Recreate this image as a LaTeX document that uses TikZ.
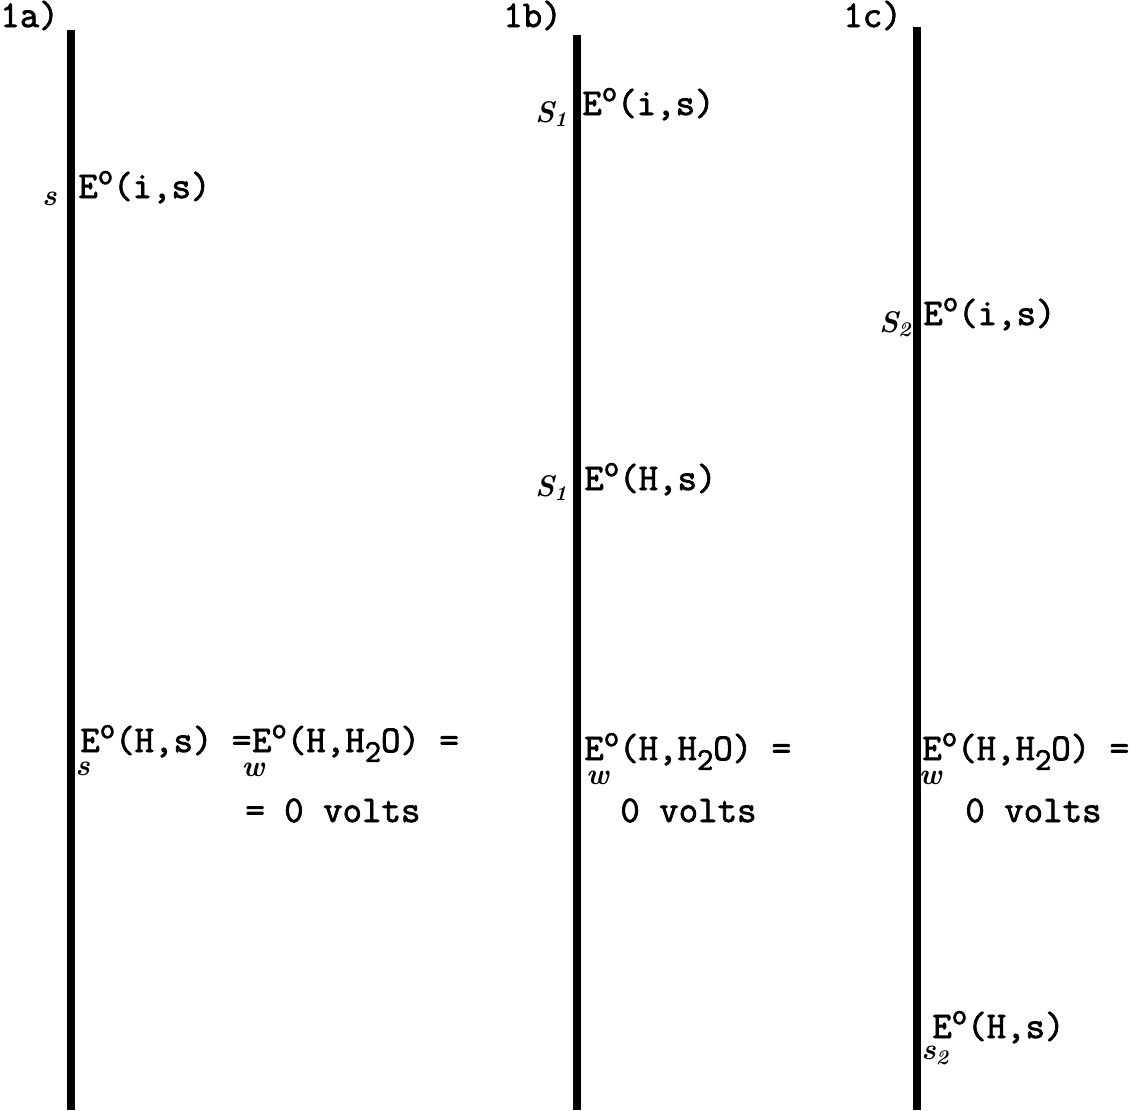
\documentclass[tikz,border=0pt]{standalone}
\usepackage{fontspec}
\setmonofont{Latin Modern Mono}[UprightFeatures={FakeBold=2}]
\usetikzlibrary{positioning}
\newcommand{\tw}{\fontsize{21.5}{25}\selectfont\ttfamily}
\newcommand{\hand}{\fontsize{17}{17}\selectfont\rmfamily\itshape\bfseries}
\newcommand{\Eo}{E\raisebox{0.85ex}{\fontsize{17}{17}\selectfont o}}
\newcommand{\Htwo}{H\raisebox{-0.6ex}{\fontsize{18}{18}\selectfont 2}}

\begin{document}
\begin{tikzpicture}[x=0.02cm,y=-0.02cm,
  bar/.style={line width=5pt,draw=black},
  lbl/.style={font=\tw,anchor=base west,inner sep=0pt},
  pre/.style={font=\hand,inner sep=0pt}
]
\useasboundingbox (0,0) rectangle (1145,1110);
% panel 1a
\coordinate (atop) at (71,30);
\coordinate (abot) at (71,1110);
\draw[bar] (atop) -- (abot);
\node[lbl] (tagA) at (0,27) {1a)};
\node[lbl] (aIS) at (78,198) {\Eo(i,s)};
\node[pre,anchor=base east] (sA) at (57,205) {s};
\node[lbl] (aHS) at (80,752) {\Eo(H,s) =};
\node[lbl] (aHW) at (aHS.base east) {\Eo(H,\Htwo O) =};
\node[pre,anchor=north west] (sA2) at (75,762) {s};
\node[pre,anchor=north west] (wA) at ([xshift=-6pt,yshift=-6pt]aHW.base west) {w};
\node[lbl] (aV) at (245,822) {= 0 volts};
% panel 1b
\coordinate (btop) at (577,35);
\coordinate (bbot) at (577,1110);
\draw[bar] (btop) -- (bbot);
\node[lbl] (tagB) at (503,27) {1b)};
\node[lbl] (bIS) at (582,115) {\Eo(i,s)};
\node[pre,anchor=base east] (sB) at (568,122) {S\textsubscript{1}};
\node[lbl] (bHS) at (584,490) {\Eo(H,s)};
\node[pre,anchor=base east] (sB2) at (568,496) {S\textsubscript{1}};
\node[lbl] (bHW) at (584,760) {\Eo(H,\Htwo O) =};
\node[pre,anchor=north west] (wB) at ([xshift=1pt,yshift=-6pt]bHW.base west) {w};
\node[lbl] (bV) at (620,822) {0 volts};
% panel 1c
\coordinate (ctop) at (917,27);
\coordinate (cbot) at (917,1110);
\draw[bar] (ctop) -- (cbot);
\node[lbl] (tagC) at (843,27) {1c)};
\node[lbl] (cIS) at (923,325) {\Eo(i,s)};
\node[pre,anchor=base east] (sC) at (912,332) {S\textsubscript{2}};
\node[lbl] (cHW) at (922,760) {\Eo(H,\Htwo O) =};
\node[pre,anchor=north west] (wC) at ([xshift=-2pt,yshift=-6pt]cHW.base west) {w};
\node[lbl] (cV) at (965,822) {0 volts};
\node[lbl] (cHS) at (932,1038) {\Eo(H,s)};
\node[pre,anchor=north west] (sC2) at (921,1046) {s\textsubscript{2}};
\end{tikzpicture}
\end{document}
